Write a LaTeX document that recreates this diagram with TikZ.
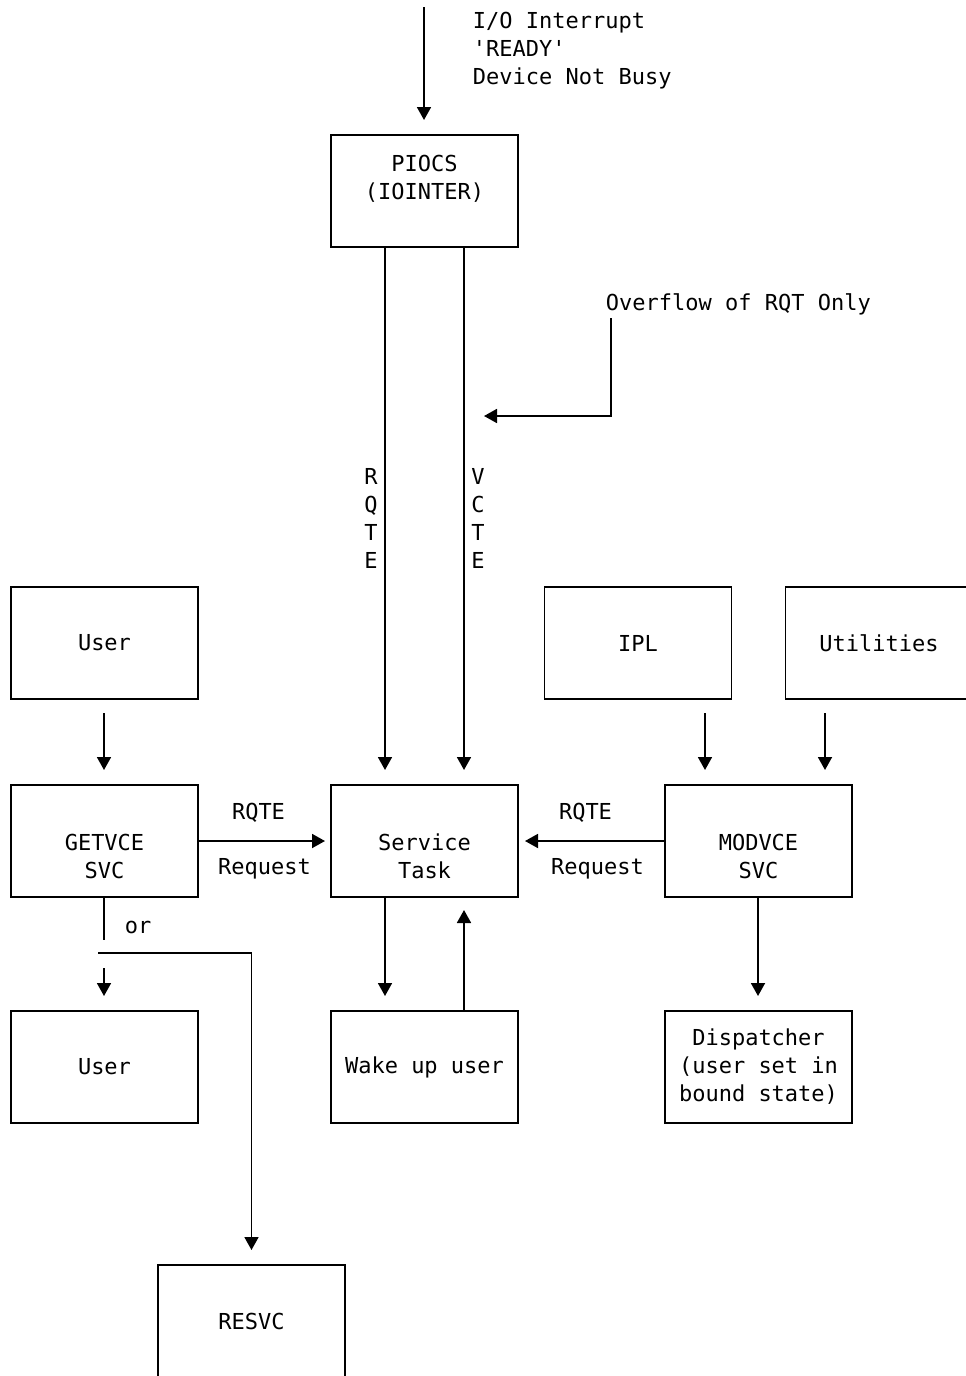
\documentclass[tikz,border=0pt]{standalone}
\usepackage{fontspec}
\setmonofont{DejaVu Sans Mono}
\usetikzlibrary{arrows.meta, positioning}
\tikzset{
  block/.style={draw, minimum width=93.5pt, minimum height=56pt, align=center, inner sep=0pt, outer sep=0pt},
  lbl/.style={inner sep=0pt, align=center},
}

\begin{document}
\begin{tikzpicture}[x=0.5pt, y=-0.5pt, >={Triangle[length=6.5pt,width=7pt]}, line width=0.9pt, every node/.style={font=\fontsize{11}{14}\selectfont\ttfamily}]
\useasboundingbox (0,0) rectangle (965,1376);
% boxes
\node[block] (piocs) at (424.5,191) {PIOCS\\(IOINTER)\\\mbox{}};
\node[block] (user) at (104.5,643) {User};
\node[block, below=43pt of user] (getvce) {\strut\\GETVCE\\SVC};
\node[block, below=57pt of getvce] (user2) {User};
\node[block, right=66.5pt of getvce] (service) {\strut\\Service\\Task};
\node[block, below=57pt of service] (wakeup) {Wake up user};
\node[block, right=73.5pt of service] (modvce) {\strut\\MODVCE\\SVC};
\node[block, below=57pt of modvce] (dispatcher) {Dispatcher\\(user set in\\bound state)};
\node[block] (ipl) at (638,643) {IPL};
\node[block, right=27pt of ipl] (utilities) {Utilities};
\node[block] (resvc) at (251.5,1321) {RESVC};
% free texts
\node[lbl, anchor=west, align=left] (irqtext) at (472,51) {I/O Interrupt\\\textquotesingle READY\textquotesingle\\Device Not Busy};
\node[lbl, anchor=west] (ovftext) at (605,304) {Overflow of RQT Only};
\node[lbl] (rqtev) at (371,518) {R\\Q\\T\\E};
\node[lbl] (vctev) at (478,518) {V\\C\\T\\E};
\node[lbl] (ortext) at (138,927) {or};
% loose ends
\coordinate (irq) at (424,7);
\coordinate (ovftop) at (611,318);
\coordinate (ovfend) at (484,416);
\coordinate (orend) at (104,940);
\coordinate (split) at (98,953);
\coordinate (userin) at (104,968);
% connectors
\draw [->, shorten >=7.5pt] (irq) -- (irq |- piocs.north);
\draw [->, shorten >=7.5pt] ([xshift=-19.75pt]piocs.south) -- ([xshift=-19.75pt]service.north);
\draw [->, shorten >=7.5pt] ([xshift=19.75pt]piocs.south) -- ([xshift=19.75pt]service.north);
\draw [->] (ovftop) |- (ovfend);
\draw [->, shorten <=7pt, shorten >=7.5pt] ([xshift=-0.25pt]user.south) -- ([xshift=-0.25pt]getvce.north);
\draw [->, shorten <=7pt, shorten >=7.5pt] ([xshift=33.5pt]ipl.south) -- ([xshift=33.5pt]ipl.south |- modvce.north);
\draw [->, shorten <=7pt, shorten >=7.5pt] ([xshift=-27pt]utilities.south) -- ([xshift=-27pt]utilities.south |- modvce.north);
\draw [->, shorten >=3pt] (getvce) -- node[lbl, yshift=14pt, xshift=-3pt] (rqteleft) {RQTE} node[lbl, yshift=-14pt] (reqleft) {Request} (service);
\draw [->, shorten >=3.5pt] (modvce) -- node[lbl, yshift=14pt, xshift=-3pt] (rqteright) {RQTE} node[lbl, yshift=-14pt, xshift=3pt] (reqright) {Request} (service);
\draw (getvce.south -| orend) -- (orend);
\draw [->, shorten >=7.5pt] (split) -| (resvc);
\draw [->, shorten >=7.5pt] (userin) -- (userin |- user2.north);
\draw [->, shorten >=7.5pt] ([xshift=-19.75pt]service.south) -- ([xshift=-19.75pt]wakeup.north);
\draw [->, shorten >=6.5pt] ([xshift=19.75pt]wakeup.north) -- ([xshift=19.75pt]service.south);
\draw [->, shorten >=7.5pt] ([xshift=-0.25pt]modvce.south) -- ([xshift=-0.25pt]dispatcher.north);
\end{tikzpicture}
\end{document}
